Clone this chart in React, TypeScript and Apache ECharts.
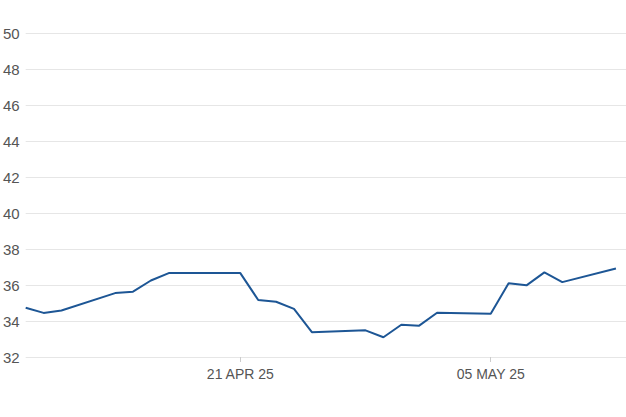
import React, { useEffect, useRef } from "react";
import * as echarts from "echarts";

const dates: string[] = [
  "2025-04-09", "2025-04-10", "2025-04-11", "2025-04-14", "2025-04-15",
  "2025-04-16", "2025-04-17", "2025-04-21", "2025-04-22", "2025-04-23",
  "2025-04-24", "2025-04-25", "2025-04-28", "2025-04-29", "2025-04-30",
  "2025-05-01", "2025-05-02", "2025-05-05", "2025-05-06", "2025-05-07",
  "2025-05-08", "2025-05-09", "2025-05-12",
];
const values: number[] = [
  34.74, 34.45, 34.58, 35.55, 35.63,
  36.25, 36.66, 36.66, 35.17, 35.07,
  34.67, 33.38, 33.48, 33.1, 33.79,
  33.74, 34.46, 34.4, 36.1, 35.98,
  36.7, 36.16, 36.92,
];
const xTickDates: string[] = ["2025-04-21", "2025-05-05"];
const yMin = 32;
const yMax = 50;
const yStep = 2;
const xMinDate = "2025-04-09T00:00:00Z";
const xMaxDate = "2025-05-12T13:30:00Z";

const MONTHS = ["JAN", "FEB", "MAR", "APR", "MAY", "JUN", "JUL", "AUG", "SEP", "OCT", "NOV", "DEC"];
const toTs = (d: string) => Date.parse(d.length === 10 ? d + "T00:00:00Z" : d);

export default function App() {
  const ref = useRef<HTMLDivElement>(null);
  useEffect(() => {
    if (!ref.current) return;
    const chart = echarts.init(ref.current, undefined, { renderer: "svg" });
    const tickTs = xTickDates.map(toTs);
    chart.setOption({
      animation: false,
      grid: { left: 24, right: 0, top: 33, bottom: 60, containLabel: false },
      xAxis: {
        type: "value",
        min: toTs(xMinDate),
        max: toTs(xMaxDate),
        axisLine: { show: false },
        splitLine: { show: false },
        axisTick: {
          show: true,
          length: 5,
          lineStyle: { color: "#cccccc" },
          customValues: tickTs,
        },
        axisLabel: {
          customValues: tickTs,
          color: "#555555",
          fontSize: 14,
          fontFamily: "Liberation Sans, Arial, sans-serif",
          margin: 10,
          formatter: (v: number) => {
            const d = new Date(v);
            const dd = String(d.getUTCDate()).padStart(2, "0");
            const yy = String(d.getUTCFullYear()).slice(2);
            return `${dd} ${MONTHS[d.getUTCMonth()]} ${yy}`;
          },
        },
      },
      yAxis: {
        type: "value",
        min: yMin,
        max: yMax,
        interval: yStep,
        axisLine: { show: false },
        axisTick: { show: false },
        splitLine: { show: true, lineStyle: { color: "#e6e6e6", width: 1 } },
        axisLabel: {
          color: "#555555",
          fontSize: 15,
          fontFamily: "Liberation Sans, Arial, sans-serif",
          margin: 6,
        },
      },
      series: [
        {
          type: "line",
          data: dates.map((d, i) => [toTs(d), values[i]]),
          showSymbol: false,
          symbol: "none",
          lineStyle: { color: "#1d5695", width: 2 },
          itemStyle: { color: "#1d5695" },
        },
      ],
    });
    return () => chart.dispose();
  }, []);
  return (
    <div
      ref={ref}
      style={{ position: "fixed", left: 0, top: 0, width: 626, height: 417, background: "#ffffff" }}
    />
  );
}
